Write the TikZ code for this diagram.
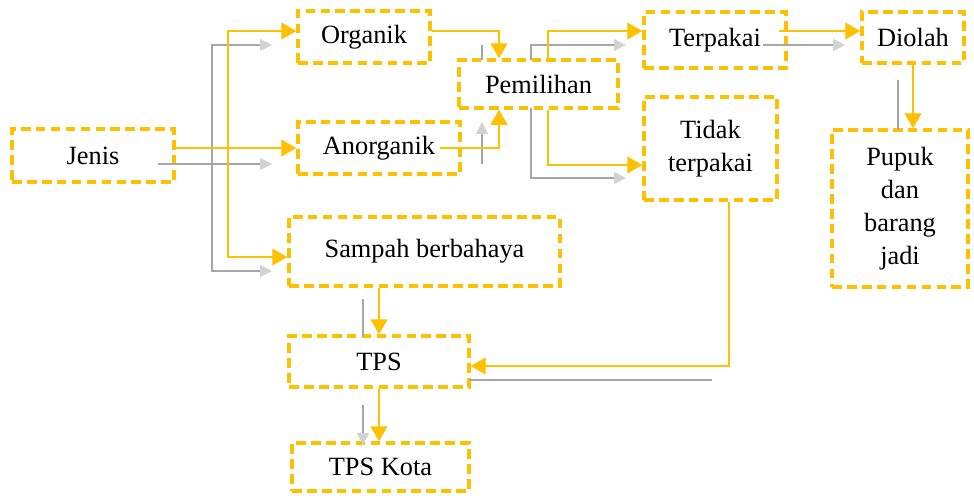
\documentclass[tikz,border=0pt]{standalone}
\usepackage{fontspec}
\setmainfont{Liberation Serif}
\usepackage{tikz}
\usetikzlibrary{arrows.meta}
\definecolor{gold}{HTML}{FFC000}
\definecolor{ghostgray}{HTML}{A6A6A6}
\tikzset{
  box/.style   = {draw=gold,line width=2pt,dash pattern=on 5.5pt off 3pt,
                  inner sep=0pt,align=center,font=\fontsize{15}{18.8}\selectfont},
  flow/.style  = {-{Triangle[length=0.3cm,width=0.34cm]},gold,line width=0.6pt},
  ghost/.style = {-{Triangle[length=0.24cm,width=0.24cm,color=gray!35]},ghostgray,line width=0.8pt},
  bare/.style  = {ghostgray,line width=0.8pt}
}

\begin{document}
\begin{tikzpicture}[x=0.02cm,y=-0.02cm]
  \useasboundingbox (0,0) rectangle (974,495);
  % boxes, placed at their centres (pixel grid)
  \node[box,minimum width=3.24cm,minimum height=1.06cm] (jen)  at (93,155.5)   {Jenis};
  \node[box,minimum width=2.64cm,minimum height=1.04cm] (org)  at (364,37)     {Organik};
  \node[box,minimum width=3.24cm,minimum height=1.04cm] (ano)  at (379,148)    {Anorganik};
  \node[box,minimum width=5.42cm,minimum height=1.38cm] (sam)  at (424.5,251.5) {Sampah berbahaya};
  \node[box,minimum width=3.18cm,minimum height=0.96cm] (pem)  at (538.5,84)   {Pemilihan};
  \node[box,minimum width=2.84cm,minimum height=1.12cm] (ter)  at (715,40)     {Terpakai};
  \node[box,minimum width=2.66cm,minimum height=2.06cm] (tid)  at (710.5,148.5) {Tidak\\terpakai};
  \node[box,minimum width=2.04cm,minimum height=1.02cm] (dio)  at (913,37.5)   {Diolah};
  \node[box,minimum width=2.72cm,minimum height=3.14cm] (pup)  at (900,208.5)  {Pupuk\\dan\\barang\\jadi};
  \node[box,minimum width=3.60cm,minimum height=1.02cm] (tps)  at (379,361.5)  {TPS};
  \node[box,minimum width=3.54cm,minimum height=0.96cm] (kota) at (380.5,467)  {TPS Kota};

  % grey shadow copy of the connectors
  \draw[ghost] (158,164) -- (272,164);
  \draw[ghost] (212,271) |- (272,45);
  \draw[ghost] (212,45)  |- (272,271);
  \draw[bare]  (482,45)  -- (482,60);
  \draw[ghost] (482,164) -- (482,122);
  \draw[ghost] (531,60)  |- (626,45);
  \draw[ghost] (531,108) |- (626,178);
  \draw[ghost] (763,45)  -- (845,45);
  \draw[bare]  (898,80)  -- (898,130);
  \draw[bare]  (363,299) -- (363,336);
  \draw[ghost] (363,405) -- (363,445);
  \draw[bare]  (469,380) -- (712,380);

  % gold connectors
  \coordinate (busN) at (228,31);
  \coordinate (busS) at (228,257);
  \coordinate (pin)  at (499,0);
  \coordinate (pout) at (548,0);
  \draw[flow] (ano.west -| jen.east) -- (ano.west);
  \draw[flow] (busS) |- (org.west |- busN);
  \draw[flow] (busN) |- (sam.west |- busS);
  \draw[flow] (org.east |- busN) -| (pin |- pem.north);
  \draw[flow] ([xshift=-0.44cm]ano.east) -| (pin |- pem.south);
  \draw[flow] (pout |- pem.north) |- (ter.west |- busN);
  \draw[flow] (pout |- pem.south) |- ([yshift=-0.33cm]tid.west);
  \draw[flow] ([xshift=-0.18cm]ter.east |- busN) -- (dio.west |- busN);
  \draw[flow] (dio.south) -- (dio.south |- pup.north);
  \draw[flow] (tps.north |- sam.south) -- (tps.north);
  \draw[flow] ([xshift=0.37cm]tid.south) |- ([yshift=-0.09cm]tps.east);
  \draw[flow] (tps.south) -- (tps.south |- kota.north);
\end{tikzpicture}
\end{document}
